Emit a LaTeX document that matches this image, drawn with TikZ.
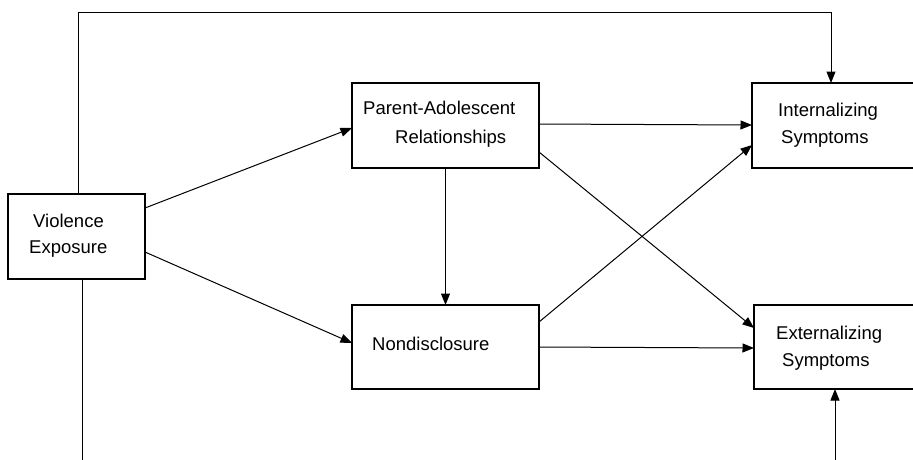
\documentclass[tikz,border=0pt]{standalone}
\usepackage{fontspec}
\setmainfont{Liberation Sans}
\usetikzlibrary{arrows.meta}
\begin{document}
\begin{tikzpicture}[x=1pt,y=-1pt,
  box/.style={draw, line width=1.2pt, inner sep=0pt, outer sep=0pt},
  lbl/.style={anchor=base west, inner sep=0pt, font=\fontsize{18.5}{22}\selectfont},
  arr/.style={line width=1pt, -{Triangle[length=11.5pt,width=9pt]}},
  ln/.style={line width=1pt}]
\useasboundingbox (0,0) rectangle (913,459);
\clip (0,0) rectangle (913,459);
% boxes
\node[box, minimum width=137pt, minimum height=85pt] (viol) at (76.5,236.5) {};
\node[box, minimum width=187pt, minimum height=85pt] (par) at (445.5,125.5) {};
\node[box, minimum width=187pt, minimum height=84pt] (nd) at (445.5,347) {};
\node[box, minimum width=180pt, minimum height=85pt] (int) at (842,125.5) {};
\node[box, minimum width=180pt, minimum height=84pt] (ext) at (844,347) {};
% labels
\node[lbl] (t1) at (33,227) {Violence};
\node[lbl] (t2) at (29,253) {Exposure};
\node[lbl] (t3) at (363,114) {Parent-Adolescent};
\node[lbl] (t4) at (395,143) {Relationships};
\node[lbl] (t5) at (372,350) {Nondisclosure};
\node[lbl] (t6) at (778,116) {Internalizing};
\node[lbl] (t7) at (781,143) {Symptoms};
\node[lbl] (t8) at (776,339) {Externalizing};
\node[lbl] (t9) at (782,366) {Symptoms};
% connectors
\draw[arr] (viol.east |- 0,208) -- (par.west |- 0,128);
\draw[arr] (viol.east |- 0,252) -- (nd.west |- 0,343);
\draw[arr] (par.south) -- (nd.north);
\draw[arr] (par.east |- 0,124) -- (int.west |- 0,125);
\draw[arr] (par.east |- 0,152) -- (ext.west |- 0,328);
\draw[arr] (nd.east |- 0,322) -- (int.west |- 0,145);
\draw[arr] (nd.east |- 0,347) -- (ext.west |- 0,348);
\coordinate (tl) at (78,12);
\coordinate (tr) at (831,12);
\draw[arr] (viol.north -| tl) -- (tl) -- (tr) -- (int.north -| tr);
\coordinate (bl) at (82,470);
\coordinate (br) at (835,470);
\draw[ln] (viol.south -| bl) -- (bl);
\draw[arr] (br) -- (ext.south -| br);
\end{tikzpicture}
\end{document}
